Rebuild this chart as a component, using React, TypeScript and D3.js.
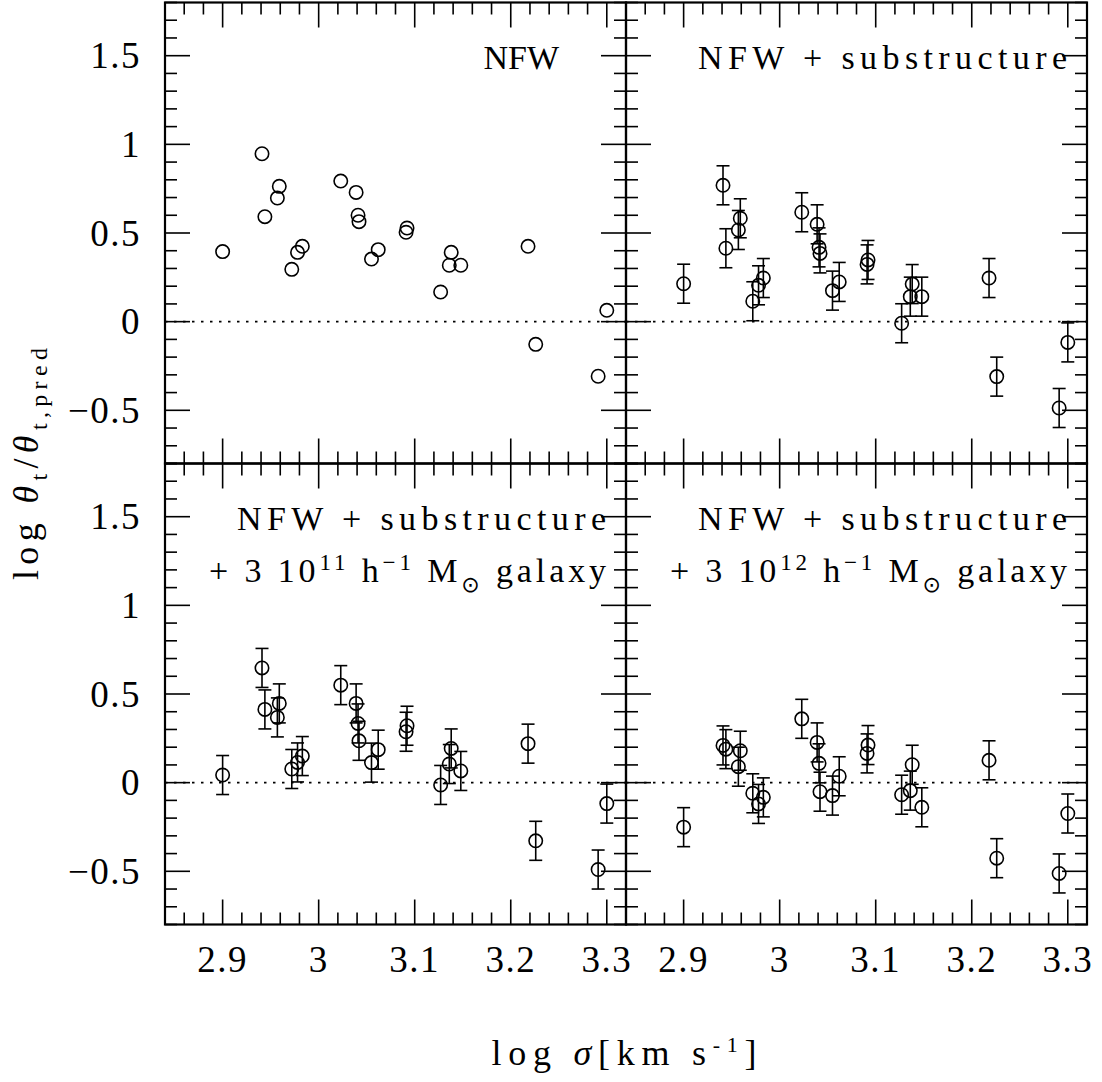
import React, { useEffect, useRef } from 'react';
import * as d3 from 'd3';

// log sigma of the 24 clusters (same in every panel)
const sigma = [2.900, 2.941, 2.944, 2.959, 2.957, 2.972, 2.978, 2.983, 3.023, 3.039, 3.041, 3.042,
  3.055, 3.062, 3.092, 3.091, 3.127, 3.138, 3.136, 3.148, 3.218, 3.226, 3.291, 3.300];

// log theta_t / theta_t,pred for each model
const yNFW = [0.395, 0.947, 0.592, 0.763, 0.697, 0.295, 0.391, 0.425, 0.793, 0.729, 0.600, 0.564,
  0.353, 0.406, 0.528, 0.504, 0.167, 0.391, 0.318, 0.318, 0.425, -0.128, -0.308, 0.064];
const ySub = [0.214, 0.769, 0.414, 0.583, 0.517, 0.115, 0.205, 0.246, 0.617, 0.549, 0.419, 0.385,
  0.175, 0.224, 0.348, 0.323, -0.009, 0.212, 0.141, 0.141, 0.246, -0.310, -0.487, -0.117];
const ySub11 = [0.043, 0.647, 0.413, 0.447, 0.368, 0.077, 0.114, 0.150, 0.550, 0.447, 0.334, 0.236,
  0.113, 0.186, 0.321, 0.287, -0.013, 0.193, 0.105, 0.066, 0.220, -0.328, -0.490, -0.118];
const ySub12 = [-0.251, 0.210, 0.189, 0.180, 0.090, -0.060, -0.120, -0.083, 0.360, 0.227, 0.109, -0.051,
  -0.073, 0.036, 0.212, 0.165, -0.068, 0.101, -0.045, -0.139, 0.126, -0.426, -0.512, -0.174];

// 1-sigma error on the substructure models
const errBar = [0.11, 0.11, 0.11, 0.11, 0.11, 0.11, 0.11, 0.11, 0.11, 0.11, 0.11, 0.11,
  0.11, 0.11, 0.11, 0.11, 0.11, 0.11, 0.11, 0.11, 0.11, 0.11, 0.11, 0.11];

const xMajor = [2.9, 3.0, 3.1, 3.2, 3.3];
const xTickLabels = ['2.9', '3', '3.1', '3.2', '3.3'];
const yMajor = [1.5, 1, 0.5, 0, -0.5];
const yTickLabels = ['1.5', '1', '0.5', '0', '\u22120.5'];

const W = 1102;
const H = 1082;
const PW = 461;
const PH = 461;
const colX = [165, 626];
const rowY = [2.5, 463.5];
const FONT = '"Liberation Serif", "DejaVu Serif", serif';

const panels = [
  { col: 0, row: 0, values: yNFW, errs: null, title: 'nfw' },
  { col: 1, row: 0, values: ySub, errs: errBar, title: 'sub' },
  { col: 0, row: 1, values: ySub11, errs: errBar, title: '11' },
  { col: 1, row: 1, values: ySub12, errs: errBar, title: '12' },
];

const App = () => {
  const ref = useRef(null);

  useEffect(() => {
    if (!ref.current) return;
    const svg = d3.select(ref.current);
    svg.selectAll('*').remove();

    const xMinor = d3.range(142, 167).map(i => i / 50);
    const yMinor = d3.range(-8, 19).map(i => i / 10);
    const isMajor = (v, arr) => arr.some(m => Math.abs(m - v) < 1e-6);

    panels.forEach(p => {
      const x0 = colX[p.col];
      const y0 = rowY[p.row];
      const x = d3.scaleLinear().domain([2.84, 3.32]).range([x0, x0 + PW]);
      const y = d3.scaleLinear().domain([-0.8, 1.8]).range([y0 + PH, y0]);
      const g = svg.append('g');

      // zero line
      g.append('line')
        .attr('x1', x0).attr('x2', x0 + PW)
        .attr('y1', y(0)).attr('y2', y(0))
        .attr('stroke', '#000').attr('stroke-width', 1.6)
        .attr('stroke-dasharray', '2.5,6.5');

      // ticks, all four sides
      const ticks = g.append('g').attr('stroke', '#000').attr('stroke-width', 1.6);
      xMinor.forEach(v => {
        const len = isMajor(v, xMajor) ? 25 : 12;
        ticks.append('line').attr('x1', x(v)).attr('x2', x(v)).attr('y1', y0 + PH).attr('y2', y0 + PH - len);
        ticks.append('line').attr('x1', x(v)).attr('x2', x(v)).attr('y1', y0).attr('y2', y0 + len);
      });
      yMinor.forEach(v => {
        const len = isMajor(v, yMajor) ? 25 : 12;
        ticks.append('line').attr('y1', y(v)).attr('y2', y(v)).attr('x1', x0).attr('x2', x0 + len);
        ticks.append('line').attr('y1', y(v)).attr('y2', y(v)).attr('x1', x0 + PW).attr('x2', x0 + PW - len);
      });

      // frame
      g.append('rect')
        .attr('x', x0).attr('y', y0).attr('width', PW).attr('height', PH)
        .attr('fill', 'none').attr('stroke', '#000').attr('stroke-width', 2.2);

      // error bars
      if (p.errs) {
        const eb = g.append('g').attr('stroke', '#000').attr('stroke-width', 1.6);
        p.values.forEach((v, i) => {
          const cx = x(sigma[i]);
          const lo = y(v - p.errs[i]);
          const hi = y(v + p.errs[i]);
          eb.append('line').attr('x1', cx).attr('x2', cx).attr('y1', lo).attr('y2', hi);
          eb.append('line').attr('x1', cx - 6.5).attr('x2', cx + 6.5).attr('y1', lo).attr('y2', lo);
          eb.append('line').attr('x1', cx - 6.5).attr('x2', cx + 6.5).attr('y1', hi).attr('y2', hi);
        });
      }

      // points
      g.append('g').selectAll('circle')
        .data(p.values)
        .enter().append('circle')
        .attr('cx', (d, i) => x(sigma[i]))
        .attr('cy', d => y(d))
        .attr('r', 6.7)
        .attr('fill', 'none')
        .attr('stroke', '#000')
        .attr('stroke-width', 1.6);

      // titles
      const tx = x0 + PW - 20;
      const title = g.append('g').attr('font-family', FONT).attr('font-size', 34).attr('fill', '#000');
      if (p.title === 'nfw') {
        title.append('text').attr('x', x0 + PW - 67).attr('y', y0 + 66).attr('text-anchor', 'end')
          .attr('letter-spacing', 0).text('NFW');
      } else {
        title.append('text').attr('x', tx).attr('y', y0 + 66).attr('text-anchor', 'end')
          .attr('textLength', 369).attr('lengthAdjust', 'spacing').text('NFW + substructure');
      }
      if (p.title === '11' || p.title === '12') {
        const t = title.append('text').attr('x', tx).attr('y', y0 + 118).attr('text-anchor', 'end')
          .attr('textLength', 397).attr('lengthAdjust', 'spacing');
        t.append('tspan').text('+ 3 10');
        t.append('tspan').attr('font-size', 23).attr('dy', -12).text(p.title);
        t.append('tspan').attr('dy', 12).text(' h');
        t.append('tspan').attr('font-size', 23).attr('dy', -12).text('\u22121');
        t.append('tspan').attr('dy', 12).text(' M');
        t.append('tspan').attr('font-size', 22).attr('dy', 10).attr('font-family', '"DejaVu Sans", sans-serif').text('\u2299');
        t.append('tspan').attr('dy', -10).text(' galaxy');
      }

      // tick labels
      const lab = g.append('g').attr('font-family', FONT).attr('font-size', 37).attr('fill', '#000')
        .attr('letter-spacing', 1.5);
      if (p.row === 1) {
        xMajor.forEach((v, i) => {
          lab.append('text').attr('x', x(v)).attr('y', 972).attr('text-anchor', 'middle').text(xTickLabels[i]);
        });
      }
      if (p.col === 0) {
        yMajor.forEach((v, i) => {
          lab.append('text').attr('x', 141).attr('y', y(v) + 12.5).attr('text-anchor', 'end').text(yTickLabels[i]);
        });
      }
    });

    // axis titles
    const xl = svg.append('text')
      .attr('x', 624).attr('y', 1065).attr('text-anchor', 'middle')
      .attr('font-family', FONT).attr('font-size', 36).attr('fill', '#000')
      .attr('textLength', 265).attr('lengthAdjust', 'spacing');
    xl.append('tspan').text('log ');
    xl.append('tspan').attr('font-style', 'italic').text('\u03c3');
    xl.append('tspan').text('[km s');
    xl.append('tspan').attr('font-size', 22).attr('dy', -13).text('-1');
    xl.append('tspan').attr('dy', 13).text(']');

    const yl = svg.append('text')
      .attr('transform', 'translate(38,464) rotate(-90)')
      .attr('text-anchor', 'middle')
      .attr('font-family', FONT).attr('font-size', 36).attr('fill', '#000')
      .attr('textLength', 232).attr('lengthAdjust', 'spacing');
    yl.append('tspan').text('log ');
    yl.append('tspan').attr('font-style', 'italic').text('\u03b8');
    yl.append('tspan').attr('font-size', 24).attr('dy', 9).text('t');
    yl.append('tspan').attr('dy', -9).text('/');
    yl.append('tspan').attr('font-style', 'italic').text('\u03b8');
    yl.append('tspan').attr('font-size', 24).attr('dy', 9).text('t,pred');

    return () => {
      if (ref.current) d3.select(ref.current).selectAll('*').remove();
    };
  }, []);

  return (
    <svg ref={ref} width={W} height={H}
      style={{ position: 'absolute', left: 0, top: 0, background: '#fff' }} />
  );
};

export default App;
